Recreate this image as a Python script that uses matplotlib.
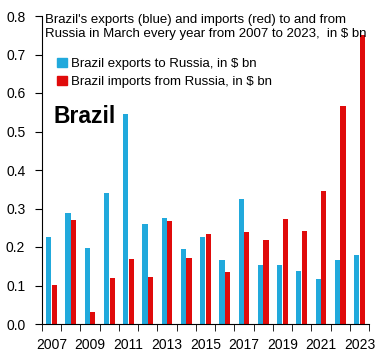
import numpy as np
import matplotlib
matplotlib.use("Agg")
import matplotlib.pyplot as plt
from matplotlib.patches import Patch

years = list(range(2007, 2024))
exports = [0.227, 0.289, 0.198, 0.341, 0.545, 0.260, 0.276, 0.196, 0.227,
           0.166, 0.325, 0.154, 0.154, 0.138, 0.118, 0.166, 0.180]
imports = [0.101, 0.270, 0.032, 0.120, 0.169, 0.123, 0.268, 0.172, 0.235,
           0.135, 0.240, 0.219, 0.274, 0.242, 0.346, 0.567, 0.751]

blue = "#21A9DC"
red = "#E00B0B"

plt.rcParams['font.family'] = ['Liberation Sans Narrow', 'Liberation Sans', 'DejaVu Sans']

fig = plt.figure(figsize=(3.84, 3.60), dpi=100)
ax = fig.add_axes([42/384, 1 - 324/360, 327/384, 308/360])

x = np.arange(len(years))
w = 0.27
ax.bar(x - w/2 - 0.01, exports, width=w, color=blue)
ax.bar(x + w/2 + 0.01, imports, width=w, color=red)

ax.set_xlim(-0.5, len(years) - 0.5)
ax.set_ylim(0, 0.8)
ax.set_yticks(np.arange(0, 0.81, 0.1))
ax.set_yticklabels([f"{v:.1f}" for v in np.arange(0, 0.81, 0.1)], fontsize=10)
ax.set_xticks(x[::2])
ax.set_xticklabels([str(y) for y in years[::2]], fontsize=10)
ax.set_xticks(np.arange(-0.5, len(years), 1), minor=True)
ax.tick_params(axis='x', which='major', length=0, pad=10)
ax.tick_params(axis='x', which='minor', length=5, direction='out')
ax.tick_params(axis='y', length=5, direction='out', pad=7)
ax.spines['top'].set_visible(False)
ax.spines['right'].set_visible(False)
ax.spines['left'].set_color('black')
ax.spines['bottom'].set_color('black')

ax.text(0.01, 1.008, "Brazil's exports (blue) and imports (red) to and from\n"
        "Russia in March every year from 2007 to 2023,  in $ bn",
        transform=ax.transAxes, ha='left', va='top', fontsize=9.5, linespacing=1.25)

handles = [Patch(color=blue), Patch(color=red)]
ax.legend(handles, ["Brazil exports to Russia, in $ bn", "Brazil imports from Russia, in $ bn"],
          loc='upper left', bbox_to_anchor=(0.031, 0.88), frameon=False, fontsize=9.5,
          handlelength=0.7, handleheight=0.7, handletextpad=0.3, borderaxespad=0,
          labelspacing=0.4)

ax.text(0.035, 0.675, "Brazil", transform=ax.transAxes, ha='left', va='center',
        fontsize=16.5, fontweight='bold', family=['Liberation Sans', 'DejaVu Sans'])

fig.savefig("out.png", dpi=100)
